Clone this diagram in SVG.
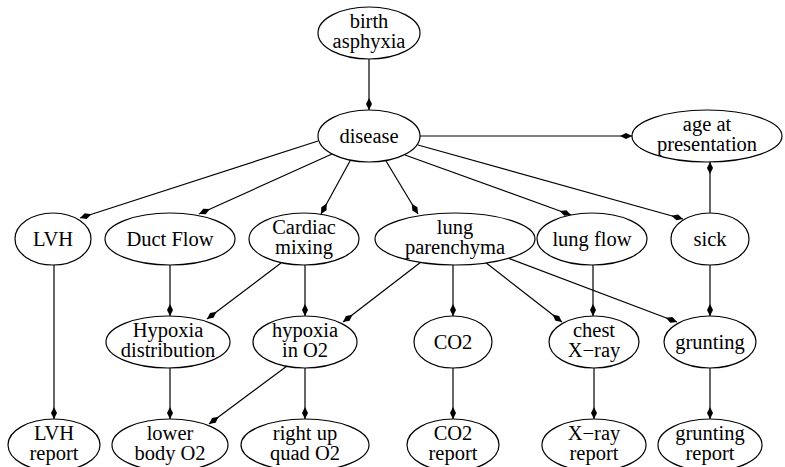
<svg xmlns="http://www.w3.org/2000/svg" width="785" height="467" viewBox="0 0 785 467">
  <defs>
    <marker id="dia" markerWidth="14" markerHeight="8" refX="12" refY="4" orient="auto" markerUnits="userSpaceOnUse">
      <path d="M0,4 L6,1 L12,4 L6,7 Z" fill="#000"/>
    </marker>
  </defs>
  <style>
    .node ellipse { fill: #fff; stroke: #000; stroke-width: 1.2; }
    .node text { font-family: "Liberation Serif", "Times New Roman", serif; font-size: 20.5px; fill: #000; text-anchor: middle; }
    .edges line { stroke: #000; stroke-width: 1.2; marker-end: url(#dia); }
  </style>
  <rect width="785" height="467" fill="#fff"/>

  <g class="edges" id="edges">
    <line x1="369" y1="59" x2="369" y2="110"/>
    <line x1="420" y1="136" x2="632" y2="136"/>
    <line x1="318" y1="141" x2="80" y2="218"/>
    <line x1="332" y1="154" x2="199" y2="214"/>
    <line x1="350" y1="161" x2="321" y2="214"/>
    <line x1="386" y1="161" x2="418" y2="214"/>
    <line x1="405" y1="155" x2="571" y2="215"/>
    <line x1="418" y1="145" x2="683" y2="219"/>
    <line x1="710" y1="213" x2="710" y2="162"/>
    <line x1="54" y1="265" x2="54" y2="419"/>
    <line x1="170" y1="265" x2="170" y2="316"/>
    <line x1="281" y1="263" x2="207" y2="319"/>
    <line x1="305" y1="265" x2="305" y2="316"/>
    <line x1="421" y1="262" x2="343" y2="322"/>
    <line x1="453" y1="265" x2="453" y2="316"/>
    <line x1="485" y1="262" x2="562" y2="322"/>
    <line x1="508" y1="258" x2="677" y2="322"/>
    <line x1="593" y1="265" x2="593" y2="316"/>
    <line x1="710" y1="265" x2="710" y2="316"/>
    <line x1="170" y1="368" x2="170" y2="419"/>
    <line x1="287" y1="366" x2="209" y2="424"/>
    <line x1="305" y1="368" x2="305" y2="419"/>
    <line x1="453" y1="368" x2="453" y2="419"/>
    <line x1="594" y1="368" x2="594" y2="419"/>
    <line x1="710" y1="368" x2="710" y2="419"/>
  </g>

  <g class="node" id="birth-asphyxia">
    <ellipse cx="369" cy="33" rx="51" ry="26"/>
    <text x="369" y="28">birth</text>
    <text x="369" y="48">asphyxia</text>
  </g>
  <g class="node" id="disease">
    <ellipse cx="369" cy="136" rx="51" ry="26"/>
    <text x="369" y="143">disease</text>
  </g>
  <g class="node" id="age-at-presentation">
    <ellipse cx="707" cy="136" rx="75" ry="26"/>
    <text x="707" y="131">age at</text>
    <text x="707" y="151">presentation</text>
  </g>
  <g class="node" id="LVH">
    <ellipse cx="53" cy="239" rx="38" ry="26"/>
    <text x="53" y="246">LVH</text>
  </g>
  <g class="node" id="duct-flow">
    <ellipse cx="170" cy="239" rx="65" ry="26"/>
    <text x="170" y="246">Duct Flow</text>
  </g>
  <g class="node" id="cardiac-mixing">
    <ellipse cx="304" cy="239" rx="55" ry="26"/>
    <text x="304" y="234">Cardiac</text>
    <text x="304" y="254">mixing</text>
  </g>
  <g class="node" id="lung-parenchyma">
    <ellipse cx="455" cy="239" rx="80" ry="26"/>
    <text x="455" y="234">lung</text>
    <text x="455" y="254">parenchyma</text>
  </g>
  <g class="node" id="lung-flow">
    <ellipse cx="592" cy="239" rx="55" ry="26"/>
    <text x="592" y="246">lung flow</text>
  </g>
  <g class="node" id="sick">
    <ellipse cx="710" cy="239" rx="39" ry="26"/>
    <text x="710" y="246">sick</text>
  </g>
  <g class="node" id="hypoxia-distribution">
    <ellipse cx="168" cy="342" rx="62" ry="26"/>
    <text x="168" y="337">Hypoxia</text>
    <text x="168" y="357">distribution</text>
  </g>
  <g class="node" id="hypoxia-in-O2">
    <ellipse cx="305" cy="342" rx="52" ry="26"/>
    <text x="305" y="337">hypoxia</text>
    <text x="305" y="357">in O2</text>
  </g>
  <g class="node" id="CO2">
    <ellipse cx="453" cy="342" rx="39" ry="26"/>
    <text x="453" y="349">CO2</text>
  </g>
  <g class="node" id="chest-xray">
    <ellipse cx="594" cy="342" rx="45" ry="26"/>
    <text x="594" y="337">chest</text>
    <text x="594" y="357">X&#8722;ray</text>
  </g>
  <g class="node" id="grunting">
    <ellipse cx="710" cy="342" rx="46" ry="26"/>
    <text x="710" y="349">grunting</text>
  </g>
  <g class="node" id="LVH-report">
    <ellipse cx="54" cy="445" rx="46" ry="26"/>
    <text x="54" y="440">LVH</text>
    <text x="54" y="460">report</text>
  </g>
  <g class="node" id="lower-body-O2">
    <ellipse cx="170" cy="445" rx="58" ry="26"/>
    <text x="170" y="440">lower</text>
    <text x="170" y="460">body O2</text>
  </g>
  <g class="node" id="right-up-quad-O2">
    <ellipse cx="305" cy="445" rx="64" ry="26"/>
    <text x="305" y="440">right up</text>
    <text x="305" y="460">quad O2</text>
  </g>
  <g class="node" id="CO2-report">
    <ellipse cx="453" cy="445" rx="46" ry="26"/>
    <text x="453" y="440">CO2</text>
    <text x="453" y="460">report</text>
  </g>
  <g class="node" id="xray-report">
    <ellipse cx="594" cy="445" rx="52" ry="26"/>
    <text x="594" y="440">X&#8722;ray</text>
    <text x="594" y="460">report</text>
  </g>
  <g class="node" id="grunting-report">
    <ellipse cx="710" cy="445" rx="52" ry="26"/>
    <text x="710" y="440">grunting</text>
    <text x="710" y="460">report</text>
  </g>
</svg>
